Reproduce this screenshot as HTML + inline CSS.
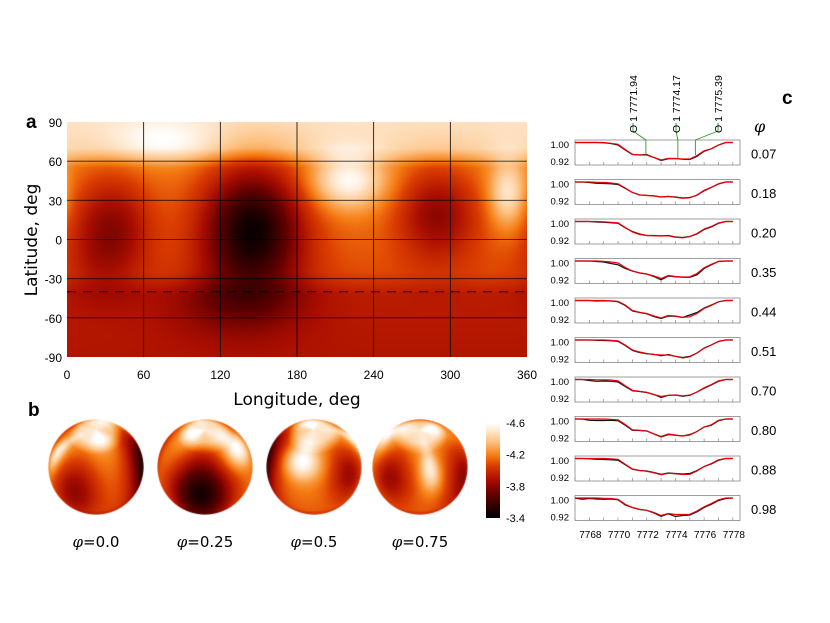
<!DOCTYPE html>
<html><head><meta charset="utf-8">
<style>
body{margin:0;background:#fff;width:830px;height:623px;overflow:hidden;position:relative;font-family:"Liberation Sans",sans-serif}
.abs{position:absolute}
canvas{position:absolute}
</style></head><body>
<div class="abs" style="left:26px;top:112px;font:bold 19px 'Liberation Sans',sans-serif">a</div>
<div class="abs" style="left:28px;top:400px;font:bold 19px 'Liberation Sans',sans-serif">b</div>
<div class="abs" style="left:782px;top:88px;font:bold 19px 'Liberation Sans',sans-serif">c</div>
<canvas id="map" width="460" height="235" style="left:67px;top:122px"></canvas>
<canvas id="cbar" width="14" height="95" style="left:486px;top:423px"></canvas>
<svg id="svg" width="830" height="623" style="position:absolute;left:0;top:0"></svg>
<script>
// ---- map data ----
const latTicks=[90,60,30,0,-30,-60,-90];
const lonTicks=[0,60,120,180,240,300,360];
const baseLat=[90,70,55,30,0,-25,-42,-90];
const baseVal=[0.9,0.87,0.67,0.65,0.62,0.58,0.45,0.42];
const spotLon=[35,145,130,290,220,345,75,20];
const spotLat=[10,8,-50,20,45,35,75,-20];
const spotAmp=[-0.3,-0.6,-0.12,-0.3,0.33,0.28,0.13,-0.05];
const spotSigLon=[22,28,38,22,20,10,30,20];
const spotSigLat=[28,34,18,25,15,18,12,20];
const cbTicks=[-4.6,-4.2,-3.8,-3.4];
const phases=[0.0,0.25,0.5,0.75];
const phaseLabels=["0.0","0.25","0.5","0.75"];

const cmapS=[0,0.25,0.4,0.55,0.66,0.8,0.92,1];
const cmapC=[[0,0,0],[100,0,0],[170,14,0],[218,60,0],[246,125,20],[252,192,128],[254,232,208],[255,255,255]];
function cmap(v){v=Math.max(0,Math.min(1,v));for(let i=1;i<cmapS.length;i++){if(v<=cmapS[i]){const t=(v-cmapS[i-1])/(cmapS[i]-cmapS[i-1]);return cmapC[i-1].map((c,k)=>c+(cmapC[i][k]-c)*t);}}return cmapC[cmapC.length-1];}
function base(lat){for(let i=1;i<baseLat.length;i++){if(lat>=baseLat[i]){const t=(lat-baseLat[i])/(baseLat[i-1]-baseLat[i]);return baseVal[i]+(baseVal[i-1]-baseVal[i])*t;}}return baseVal[baseVal.length-1];}
function field(lon,lat){let v=base(lat);for(let i=0;i<spotLon.length;i++){let d=((lon-spotLon[i])%360+540)%360-180;const dl=(lat-spotLat[i]);v+=spotAmp[i]*Math.exp(-(d*d)/(2*spotSigLon[i]**2)-(dl*dl)/(2*spotSigLat[i]**2));}return v;}
const MX=67,MY=122,MW=460,MH=235;
const xLon=l=>MX+l/360*MW, yLat=b=>MY+(90-b)/180*MH;
(function(){const c=document.getElementById('map').getContext('2d');const im=c.createImageData(MW,MH);
for(let y=0;y<MH;y++)for(let x=0;x<MW;x++){const lon=(x+0.5)/MW*360,lat=90-(y+0.5)/MH*180;const col=cmap(field(lon,lat));const k=(y*MW+x)*4;im.data[k]=col[0];im.data[k+1]=col[1];im.data[k+2]=col[2];im.data[k+3]=255;}
c.putImageData(im,0,0);
const cb=document.getElementById('cbar').getContext('2d');const ci=cb.createImageData(14,95);
for(let y=0;y<95;y++){const col=cmap(1-y/94);for(let x=0;x<14;x++){const k=(y*14+x)*4;ci.data[k]=col[0];ci.data[k+1]=col[1];ci.data[k+2]=col[2];ci.data[k+3]=255;}}cb.putImageData(ci,0,0);})();
// spheres
const SR=48,SY=467,SX=[96,205,314,420];
phases.forEach((p,i)=>{const cv=document.createElement('canvas');cv.width=SR*2;cv.height=SR*2;cv.style.left=(SX[i]-SR)+'px';cv.style.top=(SY-SR)+'px';


document.body.appendChild(cv);const c=cv.getContext('2d');const im=c.createImageData(SR*2,SR*2);const b=40*Math.PI/180;const lon0=360*p+60;
for(let py=0;py<SR*2;py++)for(let px=0;px<SR*2;px++){const x=(px+0.5-SR)/SR,y=-(py+0.5-SR)/SR;const r2=x*x+y*y;if(r2>1)continue;const z=Math.sqrt(1-r2);
const Y=y*Math.cos(b)+z*Math.sin(b),Z=-y*Math.sin(b)+z*Math.cos(b);const lat=Math.asin(Y)*180/Math.PI;let lon=(Math.atan2(x,Z)*180/Math.PI+lon0+720)%360;
const col=cmap(field(lon,lat)+0.03);const k=(py*SR*2+px)*4;im.data[k]=col[0];im.data[k+1]=col[1];im.data[k+2]=col[2];im.data[k+3]=r2>0.96?Math.round(255*(1-r2)/0.04):255;}
c.putImageData(im,0,0);});

// ---- spectra data ----
const wl=[7767,7767.5,7768,7768.5,7769,7769.5,7770,7770.5,7771,7771.5,7772,7772.5,7773,7773.5,7774,7774.5,7775,7775.5,7776,7776.5,7777,7777.5,7778];
const specPhases=["0.07","0.18","0.20","0.35","0.44","0.51","0.70","0.80","0.88","0.98"];
const obs=[
[1,1,1,1,0.999,0.996,0.99,0.97,0.952,0.95,0.952,0.94,0.928,0.935,0.936,0.933,0.932,0.945,0.965,0.975,0.99,1,1],
[1,1,0.998,0.995,0.994,0.993,0.99,0.975,0.958,0.948,0.947,0.945,0.94,0.942,0.94,0.936,0.938,0.947,0.965,0.978,0.992,1,1],
[1,1,1,0.998,0.997,0.995,0.993,0.975,0.96,0.95,0.944,0.944,0.943,0.944,0.938,0.936,0.94,0.95,0.968,0.978,0.993,1,1],
[1,1,1,0.998,0.996,0.99,0.985,0.97,0.96,0.952,0.948,0.938,0.925,0.94,0.937,0.935,0.935,0.945,0.97,0.985,0.998,1,1],
[1,1,1,0.998,0.999,0.998,0.995,0.98,0.958,0.952,0.947,0.936,0.928,0.938,0.937,0.932,0.942,0.952,0.97,0.982,0.995,1,1],
[1,1,1,0.999,0.998,0.997,0.995,0.978,0.958,0.95,0.945,0.943,0.937,0.942,0.935,0.93,0.935,0.948,0.968,0.98,0.994,1,1],
[1,1,0.996,0.993,0.994,0.993,0.99,0.972,0.955,0.952,0.948,0.94,0.928,0.937,0.938,0.933,0.937,0.95,0.965,0.978,0.993,1,1],
[1,1,0.995,0.994,0.994,0.995,0.993,0.975,0.955,0.954,0.952,0.94,0.928,0.938,0.935,0.932,0.938,0.95,0.968,0.975,0.993,1,1],
[1,1,0.999,0.997,0.996,0.995,0.993,0.975,0.957,0.952,0.95,0.944,0.937,0.942,0.94,0.938,0.94,0.952,0.968,0.978,0.993,1,1],
[1,0.995,0.998,0.996,0.995,0.996,0.993,0.972,0.962,0.954,0.951,0.94,0.927,0.937,0.926,0.93,0.932,0.945,0.962,0.975,0.99,0.998,1]];
const mod=[
[1,1,1,1,1,0.997,0.993,0.972,0.953,0.95,0.95,0.94,0.93,0.937,0.936,0.934,0.934,0.948,0.967,0.975,0.99,1,1],
[1,1,1,0.999,0.998,0.996,0.993,0.976,0.958,0.949,0.946,0.944,0.94,0.943,0.939,0.935,0.937,0.948,0.967,0.979,0.993,1,1],
[1,1,1,1,0.999,0.997,0.995,0.976,0.958,0.948,0.944,0.943,0.942,0.943,0.937,0.935,0.94,0.952,0.97,0.98,0.994,1,1],
[1,1,1,1,0.999,0.996,0.992,0.974,0.96,0.953,0.948,0.94,0.93,0.942,0.938,0.936,0.937,0.95,0.973,0.987,0.999,1,1],
[1,1,1,1,1,0.999,0.997,0.982,0.96,0.953,0.948,0.938,0.93,0.94,0.938,0.933,0.935,0.948,0.968,0.98,0.995,1,1],
[1,1,1,1,1,0.999,0.997,0.98,0.96,0.952,0.946,0.942,0.94,0.94,0.935,0.928,0.933,0.948,0.967,0.98,0.995,1,1],
[1,1,1,0.999,0.999,0.998,0.995,0.975,0.957,0.953,0.949,0.94,0.932,0.937,0.938,0.935,0.938,0.95,0.967,0.98,0.995,1,1],
[1,1,1,1,1,0.999,0.997,0.978,0.957,0.955,0.952,0.941,0.93,0.94,0.936,0.932,0.936,0.95,0.968,0.977,0.995,1,1],
[1,1,1,1,1,0.999,0.997,0.977,0.958,0.952,0.949,0.943,0.935,0.941,0.939,0.936,0.937,0.95,0.968,0.98,0.995,1,1],
[1,1,1,1,0.999,0.998,0.995,0.975,0.962,0.955,0.951,0.942,0.93,0.938,0.934,0.934,0.935,0.948,0.965,0.978,0.993,1,1]];
const lineWl=[7771.94,7774.17,7775.39];
const lineLab=["O 1 7771.94","O 1 7774.17","O 1 7775.39"];
const lineTextX=[633,676,718];
const specTicks=[7768,7770,7772,7774,7776,7778];

const NS='http://www.w3.org/2000/svg',svg=document.getElementById('svg');
function mk(tag,at,txt){const e=document.createElementNS(NS,tag);for(const k in at)e.setAttribute(k,at[k]);if(txt!==undefined)e.textContent=txt;svg.appendChild(e);return e;}

// map grid
latTicks.forEach(b=>{if(b!==90&&b!==-90){const l=mk('line',{x1:MX,x2:MX+MW,y1:yLat(b),y2:yLat(b),stroke:'#000','stroke-width':0.8,'stroke-opacity':0.8});}
const t=mk('text',{x:62,y:yLat(b)+5,'text-anchor':'end','font-size':12,'font-family':'Liberation Sans'},String(b));});
lonTicks.forEach(l=>{if(l!==0&&l!==360){const g=mk('line',{x1:xLon(l),x2:xLon(l),y1:MY,y2:MY+MH,stroke:'#000','stroke-width':0.8});}
const t=mk('text',{x:xLon(l),y:379,'text-anchor':'middle','font-size':12,'font-family':'Liberation Sans'},String(l));});
const dsh=mk('line',{x1:MX,x2:MX+MW,y1:yLat(-40),y2:yLat(-40),stroke:'#000','stroke-width':1,'stroke-dasharray':'9,7'});

const xt=mk('text',{x:297,y:405,'text-anchor':'middle','font-size':17,'font-family':'DejaVu Sans'},'Longitude, deg');

const yt=mk('text',{x:0,y:0,'text-anchor':'middle','font-size':17,'font-family':'DejaVu Sans',transform:'translate(37,240) rotate(-90)'},'Latitude, deg');

// sphere labels
phases.forEach((p,i)=>{const t=mk('text',{x:SX[i],y:547,'text-anchor':'middle','font-size':15,'font-family':'DejaVu Sans'});
t.innerHTML='<tspan font-style="italic" font-family="DejaVu Serif">φ</tspan>='+phaseLabels[i];
});
// colorbar labels
cbTicks.forEach((v,i)=>{const t=mk('text',{x:506,y:427+i*31.7,'font-size':11,'font-family':'Liberation Sans'},String(v));});

// spectra
const SXL=575,SXR=740,PH=25;
const xW=w=>SXL+(w-7767)/11.5*(SXR-SXL);
specPhases.forEach((ph,i)=>{const top=140+i*39.5;const yF=f=>top+2.5+(1-f)/0.08*20;
const r=mk('rect',{x:SXL,y:top,width:SXR-SXL,height:PH,fill:'none',stroke:'#888','stroke-width':0.8});
for(let w=7767;w<=7778;w++){mk('line',{x1:xW(w),x2:xW(w),y1:top+PH,y2:top+PH-3,stroke:'#888','stroke-width':0.7});}
let t=mk('text',{x:569,y:top+8,'text-anchor':'end','font-size':9.5,'font-family':'Liberation Sans'},'1.00');
t=mk('text',{x:569,y:top+PH,'text-anchor':'end','font-size':9.5,'font-family':'Liberation Sans'},'0.92');
const pts=a=>a.map((f,k)=>xW(wl[k]).toFixed(1)+','+yF(f).toFixed(1)).join(' ');
const o=mk('polyline',{points:pts(obs[i]),fill:'none',stroke:'#111','stroke-width':1.2});
const m=mk('polyline',{points:pts(mod[i]),fill:'none',stroke:'#e8000a','stroke-width':1.2});
t=mk('text',{x:751,y:top+PH/2+6,'font-size':13,'font-family':'Liberation Sans'},ph);});
specTicks.forEach(w=>{const t=mk('text',{x:xW(w)+1,y:538,'text-anchor':'middle','font-size':10,'font-family':'Liberation Sans'},String(w));});
const phi=mk('text',{x:754,y:132,'font-size':16,'font-style':'italic','font-family':'DejaVu Serif'},'φ');
lineWl.forEach((w,i)=>{const tx=lineTextX[i];const lx=xW(w);
const p=mk('polyline',{points:`${tx},123 ${tx},131 ${lx},140 ${lx},${i==1?158:155}`,fill:'none',stroke:'#2a9a20','stroke-width':0.9});
const t=mk('text',{x:0,y:0,'font-size':10.5,'font-family':'Liberation Sans',transform:`translate(${tx+4},133) rotate(-90)`},lineLab[i]);});
</script>
</body></html>
